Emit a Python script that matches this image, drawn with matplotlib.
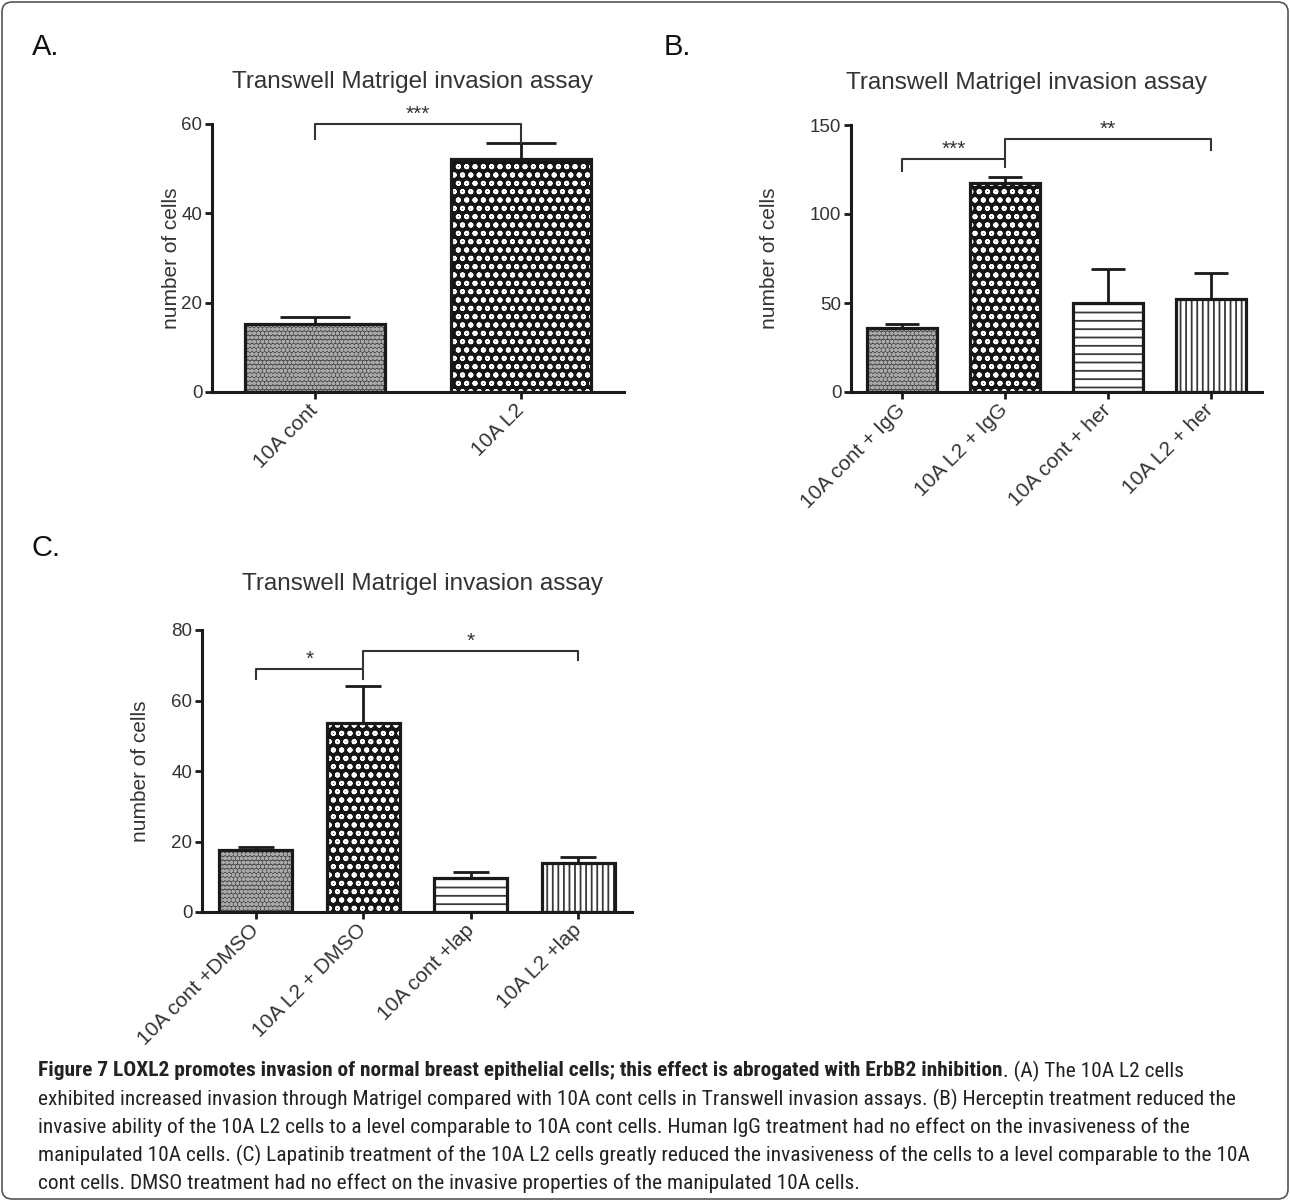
import matplotlib
matplotlib.use('Agg')
import matplotlib.pyplot as plt
from matplotlib.patches import FancyBboxPatch
import numpy as np

plt.rcParams['font.family'] = ['Liberation Sans', 'DejaVu Sans']
plt.rcParams['hatch.linewidth'] = 1.3

# ---------------- data ----------------
A_labels = ['10A cont', '10A L2']
A_means = [15.2, 52.2]
A_errs = [1.6, 3.6]
A_yticks = [0, 20, 40, 60]
A_brackets = [(0, 1, 60.0, 56.6, 55.7, '***')]

B_labels = ['10A cont + IgG', '10A L2 + IgG', '10A cont + her', '10A L2 + her']
B_means = [36.0, 117.4, 50.0, 52.2]
B_errs = [2.2, 3.4, 19.1, 14.7]
B_yticks = [0, 50, 100, 150]
B_brackets = [(0, 1, 130.9, 124.2, 126.4, '***'), (1, 3, 142.1, 131.0, 136.0, '**')]

C_labels = ['10A cont +DMSO', '10A L2 + DMSO', '10A cont +lap', '10A L2 +lap']
C_means = [17.6, 53.6, 9.6, 13.9]
C_errs = [0.8, 10.5, 1.7, 1.7]
C_yticks = [0, 20, 40, 60, 80]
C_brackets = [(0, 1, 68.9, 66.1, 66.1, '*'), (1, 3, 74.0, 69.5, 71.5, '*')]

title = 'Transwell Matrigel invasion assay'
ylabel = 'number of cells'

caption_bold = ('Figure 7 LOXL2 promotes invasion of normal breast epithelial cells; '
                'this effect is abrogated with ErbB2 inhibition')
caption_lines = [
    '. (A) The 10A L2 cells',
    'exhibited increased invasion through Matrigel compared with 10A cont cells in Transwell invasion assays. (B) Herceptin treatment reduced the',
    'invasive ability of the 10A L2 cells to a level comparable to 10A cont cells. Human IgG treatment had no effect on the invasiveness of the',
    'manipulated 10A cells. (C) Lapatinib treatment of the 10A L2 cells greatly reduced the invasiveness of the cells to a level comparable to the 10A',
    'cont cells. DMSO treatment had no effect on the invasive properties of the manipulated 10A cells.',
]

# ---------------- figure ----------------
W, H = 1290, 1201
fig = plt.figure(figsize=(W / 100, H / 100), dpi=100)

DARK = '#1a1a1a'
GREY = '#333333'

styles = [dict(fc='#4c4c4c', hc='#a8a8a8', hatch='oooo'),
          dict(fc='#151515', hc='white', hatch='oo'),
          dict(fc='white', hc='#3a3a3a', hatch='--'),
          dict(fc='white', hc='#3a3a3a', hatch='|||')]


def px_axes(x0, y0, x1, y1):
    return fig.add_axes([x0 / W, 1 - y1 / H, (x1 - x0) / W, (y1 - y0) / H])


def panel(box, labels, means, errs, yticks, brackets, label_x, xfs):
    ax = px_axes(*box)
    n = len(labels)
    x = np.arange(n)
    width = 0.68
    for i in range(n):
        st = styles[i]
        ax.bar(x[i], means[i], width, color=st['fc'], edgecolor=st['hc'],
               hatch=st['hatch'], linewidth=0, zorder=2)
    ax.bar(x, means, width, fill=False, edgecolor=DARK, linewidth=2.3, zorder=3)
    bar_px = width * (box[2] - box[0]) / n
    cap = bar_px / 4 * 0.72
    ax.errorbar(x, means, yerr=[np.zeros(n), errs], fmt='none', ecolor=DARK,
                elinewidth=2.0, capsize=cap, capthick=2.0, zorder=4)
    ax.set_xlim(-0.5, n - 0.5)
    ax.set_ylim(yticks[0], yticks[-1])
    ax.set_yticks(yticks)
    ax.set_xticks(x)
    ax.set_xticklabels(labels, rotation=45, ha='right', va='center',
                       rotation_mode='anchor', fontsize=xfs, color=GREY)
    for s in ['top', 'right']:
        ax.spines[s].set_visible(False)
    for s in ['left', 'bottom']:
        ax.spines[s].set_linewidth(2.2)
        ax.spines[s].set_color(DARK)
    ax.tick_params(axis='both', width=2.0, length=5, direction='out', color=DARK,
                   labelcolor=GREY)
    ax.tick_params(axis='y', labelsize=13.5, pad=2)
    ax.tick_params(axis='x', pad=6)
    ax.set_ylabel(ylabel, fontsize=15, color=GREY)
    ax.yaxis.set_label_coords(label_x, 0.5)
    ax.patch.set_alpha(0)
    for (i0, i1, y, l0, l1, stars) in brackets:
        ax.plot([x[i0], x[i0], x[i1], x[i1]], [l0, y, y, l1], color=GREY,
                lw=1.5, clip_on=False, zorder=5)
        ax.annotate(stars, xy=((x[i0] + x[i1]) / 2, y), xytext=(0, 0),
                    textcoords='offset points', ha='center', va='bottom',
                    fontsize=15, color=GREY, annotation_clip=False)
    return ax


axA = panel((212, 124, 624, 392), A_labels, A_means, A_errs, A_yticks, A_brackets, -0.075, 15)
axB = panel((851, 125, 1262, 392), B_labels, B_means, B_errs, B_yticks, B_brackets, -0.175, 15)
axC = panel((202, 630, 632, 912), C_labels, C_means, C_errs, C_yticks, C_brackets, -0.122, 15)

# titles and panel letters
for (tx, ty) in [(412, 82), (1026, 83), (422, 584)]:
    fig.text(tx / W, 1 - ty / H, title, ha='center', va='center', fontsize=17.5, color=GREY)
for (lx, ly, s) in [(46, 47, 'A.'), (677, 47, 'B.'), (46, 548, 'C.')]:
    fig.text(lx / W, 1 - ly / H, s, ha='center', va='center', fontsize=21, color='#111111')

# border
border = FancyBboxPatch((2 / W, 2 / H), (W - 4) / W, (H - 4) / H,
                        boxstyle='round,pad=0,rounding_size=0.008',
                        transform=fig.transFigure, fill=False, ec='#555555', lw=1.2)
fig.patches.append(border)

# caption
cap_font = ['Liberation Sans Narrow', 'Roboto Condensed', 'DejaVu Sans']
cap_size = 15.4
x0 = 38
ys = [1071, 1099, 1127, 1155, 1183]
renderer = fig.canvas.get_renderer()
tb = fig.text(x0 / W, 1 - ys[0] / H, caption_bold, ha='left', va='center',
              fontsize=cap_size, fontweight='bold', family=cap_font, color='#222222')
ext = tb.get_window_extent(renderer)
fig.text(ext.x1 / W, 1 - ys[0] / H, caption_lines[0], ha='left', va='center',
         fontsize=cap_size, family=cap_font, color='#222222')
for line, y in zip(caption_lines[1:], ys[1:]):
    fig.text(x0 / W, 1 - y / H, line, ha='left', va='center', fontsize=cap_size,
             family=cap_font, color='#222222')

fig.savefig('out.png', dpi=100)
